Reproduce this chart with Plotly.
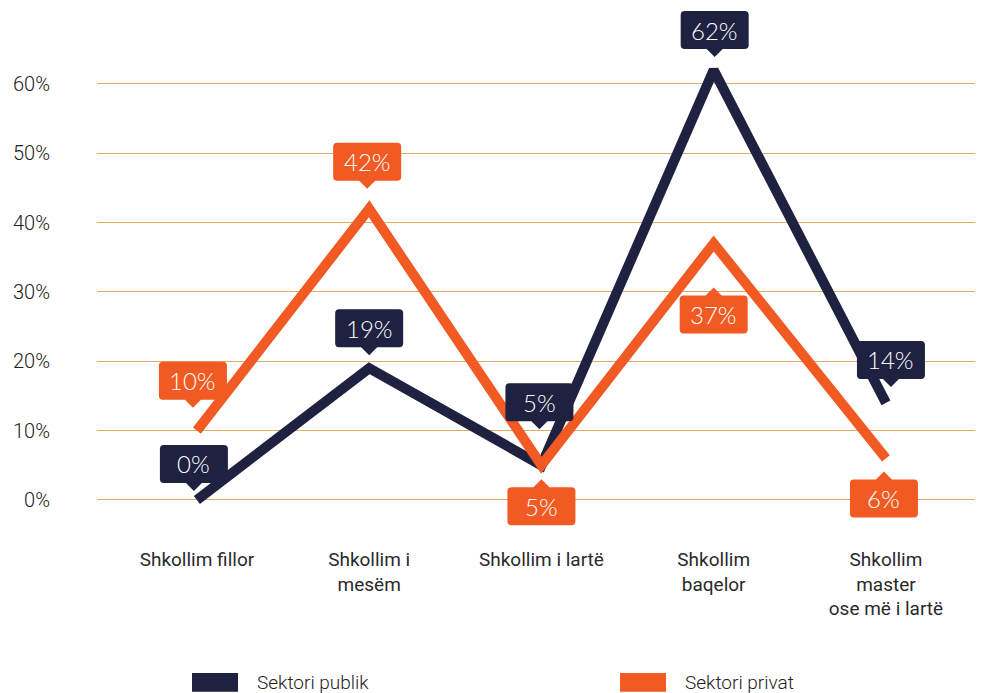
import plotly.graph_objects as go

categories = ["Shkollim fillor", "Shkollim i<br>mesëm", "Shkollim i lartë",
              "Shkollim<br>baqelor", "Shkollim<br>master<br>ose më i lartë"]
publik = [0, 19, 5, 62, 14]
privat = [10, 42, 5, 37, 6]
y_ticks = [0, 10, 20, 30, 40, 50, 60]

NAVY = "#1e2140"
ORANGE = "#f15a22"
GRID = "#d9ad64"

# callout offsets in pixels (box centre relative to point, y up), notch direction
publik_lbl = [(-3, 36, "down"), (0, 40, "down"), (-2, 63, "down"), (1, 40, "down"), (5, 43, "down")]
privat_lbl = [(-4, 50, "down"), (-2, 47, "down"), (0, -41, "up"), (0, -71, "up"), (-2, -40, "up")]


def box_path(cx, cy, notch, w=68, h=38, r=4, tip=8, half=8):
    l, rt = cx - w / 2, cx + w / 2
    t, b = cy + h / 2, cy - h / 2
    p = f"M {l + r},{t} "
    if notch == "up":
        p += f"L {cx - half},{t} L {cx},{t + tip} L {cx + half},{t} "
    p += f"L {rt - r},{t} Q {rt},{t} {rt},{t - r} L {rt},{b + r} Q {rt},{b} {rt - r},{b} "
    if notch == "down":
        p += f"L {cx + half},{b} L {cx},{b - tip} L {cx - half},{b} "
    p += f"L {l + r},{b} Q {l},{b} {l},{b + r} L {l},{t - r} Q {l},{t} {l + r},{t} Z"
    return p


fig = go.Figure()
fig.add_trace(go.Scatter(x=categories, y=publik, mode="lines", name="Sektori publik",
                         line=dict(color=NAVY, width=10), cliponaxis=False))
fig.add_trace(go.Scatter(x=categories, y=privat, mode="lines", name="Sektori privat",
                         line=dict(color=ORANGE, width=10), cliponaxis=False))

for vals, lbls, col in [(publik, publik_lbl, NAVY), (privat, privat_lbl, ORANGE)]:
    for cat, v, (dx, dy, notch) in zip(categories, vals, lbls):
        fig.add_shape(type="path", xref="x", yref="y", xsizemode="pixel", ysizemode="pixel",
                      xanchor=cat, yanchor=v, path=box_path(dx, dy, notch),
                      fillcolor=col, line=dict(width=0), layer="above")
        fig.add_annotation(x=cat, y=v, text=f"{v}%", showarrow=False, xshift=dx, yshift=dy,
                           font=dict(family="Lato", size=24, color="white", weight=300))

# legend (paper coords; plot area is 522 px tall)
for x0, col, name in [(0.1082, NAVY, "Sektori publik"), (0.5957, ORANGE, "Sektori privat")]:
    fig.add_shape(type="rect", xref="paper", yref="paper", x0=x0, x1=x0 + 0.0524,
                  y0=-0.310, y1=-0.274, fillcolor=col, line=dict(width=0))
    fig.add_annotation(xref="paper", yref="paper", x=x0 + 0.072, y=-0.293, text=name,
                       showarrow=False, xanchor="left", yanchor="middle",
                       font=dict(family="Roboto", size=19, color="#222", weight=300))

fig.update_xaxes(range=[-0.58, 4.517], showgrid=False, zeroline=False, showline=False,
                 ticks="outside", ticklen=12, tickcolor="rgba(0,0,0,0)",
                 tickfont=dict(family="Roboto", size=19, color="#2a2a2a"))
fig.update_yaxes(range=[-4.33, 70.96], tickvals=y_ticks, ticktext=[f"{t}%" for t in y_ticks],
                 showgrid=True, gridcolor=GRID, gridwidth=1.2, zeroline=False, showline=False,
                 ticks="outside", ticklen=42, tickcolor="rgba(0,0,0,0)",
                 tickfont=dict(family="Roboto", size=20, color="#222", weight=300))
fig.update_layout(width=967, height=685, margin=dict(l=89, r=0, t=0, b=163),
                  plot_bgcolor="white", paper_bgcolor="white", showlegend=False)
fig.write_html("out.html")
